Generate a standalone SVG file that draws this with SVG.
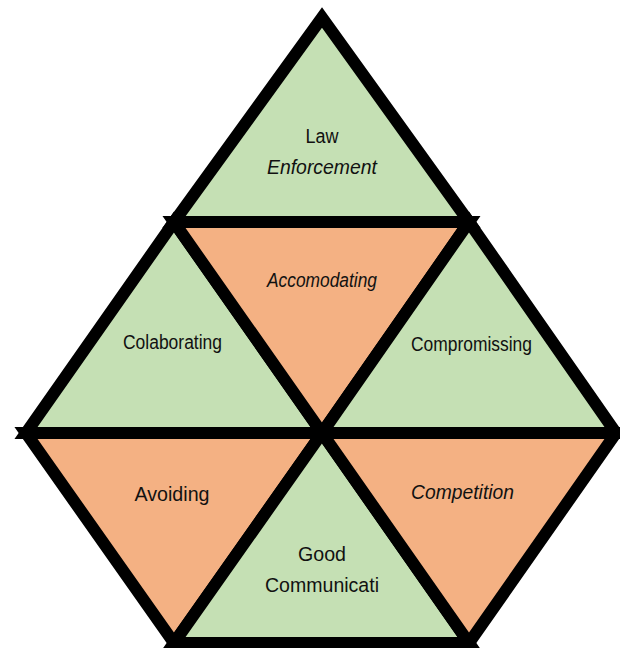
<svg xmlns="http://www.w3.org/2000/svg" width="620" height="648" viewBox="0 0 620 648">
<style>
.tri{stroke:#000;stroke-width:12;stroke-linejoin:miter;stroke-miterlimit:10}
.g{fill:#C5E0B4}
.o{fill:#F4B183}
text{font-family:"Liberation Sans",Arial,sans-serif;fill:#111;text-anchor:middle}
.s{font-size:19.5px}
.b{font-size:20.5px}
.i{font-style:italic}
</style>
<rect width="620" height="648" fill="#fff"/>
<g id="law">
<polygon class="tri g" points="322,17.5 174,222 469,222"/>
<text class="s" x="322" y="143" textLength="33" lengthAdjust="spacingAndGlyphs">Law</text>
<text class="b i" x="322" y="174" textLength="110" lengthAdjust="spacingAndGlyphs">Enforcement</text>
</g>
<g id="colaborating">
<polygon class="tri g" points="174,222 26,433 322,433"/>
<text class="s" x="172.5" y="349" textLength="99" lengthAdjust="spacingAndGlyphs">Colaborating</text>
</g>
<g id="accomodating">
<polygon class="tri o" points="174,222 469,222 322,433"/>
<text class="s i" x="322" y="287" textLength="110" lengthAdjust="spacingAndGlyphs">Accomodating</text>
</g>
<g id="compromissing">
<polygon class="tri g" points="469,222 322,433 616,433"/>
<text class="s" x="471.5" y="351" textLength="121" lengthAdjust="spacingAndGlyphs">Compromissing</text>
</g>
<g id="avoiding">
<polygon class="tri o" points="26,433 322,433 174,643"/>
<text class="b" x="172" y="501" textLength="75" lengthAdjust="spacingAndGlyphs">Avoiding</text>
</g>
<g id="good-communication">
<polygon class="tri g" points="322,433 174,643 469,643"/>
<text class="b" x="322" y="561" textLength="48" lengthAdjust="spacingAndGlyphs">Good</text>
<text class="b" x="322" y="592" textLength="114" lengthAdjust="spacingAndGlyphs">Communicati</text>
</g>
<g id="competition">
<polygon class="tri o" points="322,433 616,433 469,643"/>
<text class="b i" x="462.5" y="499" textLength="103" lengthAdjust="spacingAndGlyphs">Competition</text>
</g>
<g id="connectors"/>
</svg>
